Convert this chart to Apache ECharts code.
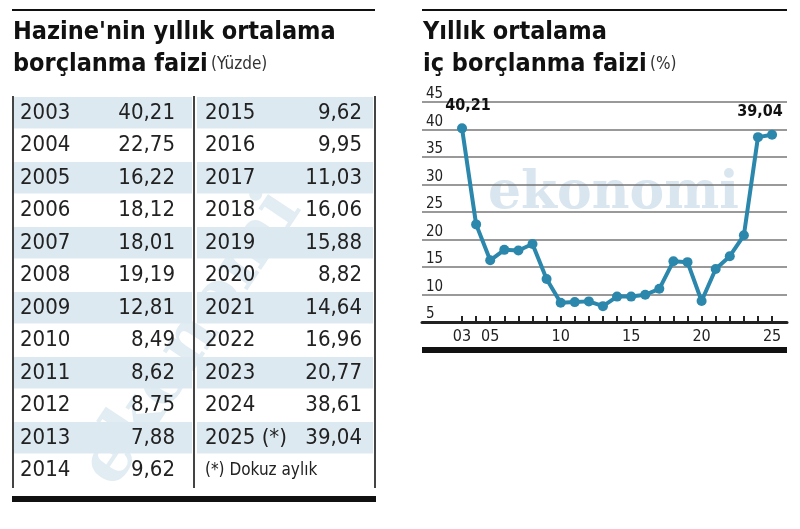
<!DOCTYPE html>
<html>
<head>
<meta charset="utf-8">
<script src="https://cdn.jsdelivr.net/npm/echarts@6/dist/echarts.min.js"></script>
<style>
html, body { margin: 0; padding: 0; background: #fff; }
#main { width: 800px; height: 529px; }
</style>
</head>
<body>
<div id="main"></div>
<script>
var years = [2003, 2004, 2005, 2006, 2007, 2008, 2009, 2010, 2011, 2012, 2013, 2014,
	2015, 2016, 2017, 2018, 2019, 2020, 2021, 2022, 2023, 2024, 2025];
var rates = [40.21, 22.75, 16.22, 18.12, 18.01, 19.19, 12.81, 8.49, 8.62, 8.75, 7.88, 9.62,
	9.62, 9.95, 11.03, 16.06, 15.88, 8.82, 14.64, 16.96, 20.77, 38.61, 39.04];
var xLabelYears = [2003, 2005, 2010, 2015, 2020, 2025];

var FONT = "'Liberation Sans Narrow', 'DejaVu Sans Condensed', 'Roboto', sans-serif";
var BLUE = '#2b87ab';
var SHADE = '#dde9f1';

function fmt(v) { return v.toFixed(2).replace('.', ','); }

// table drawn as graphic elements
var graphics = [];
var rowTop = 97, rowH = 32.5, half = 12;
graphics.push({ type: 'rect', shape: { x: 12, y: 9, width: 363, height: 2 }, style: { fill: '#111' } });
graphics.push({ type: 'rect', shape: { x: 422, y: 9, width: 365, height: 2 }, style: { fill: '#111' } });
graphics.push({ type: 'text', left: 13, top: 20, style: { text: "Hazine'nin yıllık ortalama", font: 'bold 25px ' + FONT, fill: '#111' } });
graphics.push({ type: 'text', left: 13, top: 52, style: { rich: { b: { font: 'bold 25px ' + FONT, fill: '#111' }, s: { font: '17px ' + FONT, fill: '#333' } }, text: '{b|borçlanma faizi} {s|(Yüzde)}' } });
graphics.push({ type: 'text', left: 423, top: 20, style: { text: 'Yıllık ortalama', font: 'bold 25px ' + FONT, fill: '#111' } });
graphics.push({ type: 'text', left: 423, top: 52, style: { rich: { b: { font: 'bold 25px ' + FONT, fill: '#111' }, s: { font: '17px ' + FONT, fill: '#333' } }, text: '{b|iç borçlanma faizi} {s|(%)}' } });

for (var i = 0; i < half; i++) {
	var y = rowTop + i * rowH;
	if (i % 2 === 0) {
		graphics.push({ type: 'rect', shape: { x: 14, y: y, width: 178, height: rowH - 1 }, style: { fill: SHADE } });
		graphics.push({ type: 'rect', shape: { x: 197, y: y, width: 176, height: rowH - 1 }, style: { fill: SHADE } });
	}
	graphics.push({ type: 'text', x: 20, y: y + rowH / 2, style: { text: String(years[i]), font: '22px ' + FONT, fill: '#222', verticalAlign: 'middle' } });
	graphics.push({ type: 'text', x: 175, y: y + rowH / 2, style: { text: fmt(rates[i]), font: '22px ' + FONT, fill: '#222', align: 'right', verticalAlign: 'middle' } });
	var j = i + half;
	if (j < years.length) {
		var yl = String(years[j]) + (j === years.length - 1 ? ' (*)' : '');
		graphics.push({ type: 'text', x: 205, y: y + rowH / 2, style: { text: yl, font: '22px ' + FONT, fill: '#222', verticalAlign: 'middle' } });
		graphics.push({ type: 'text', x: 362, y: y + rowH / 2, style: { text: fmt(rates[j]), font: '22px ' + FONT, fill: '#222', align: 'right', verticalAlign: 'middle' } });
	} else {
		graphics.push({ type: 'text', x: 205, y: y + rowH / 2, style: { text: '(*) Dokuz aylık', font: '17px ' + FONT, fill: '#222', verticalAlign: 'middle' } });
	}
}
graphics.push({ type: 'rect', shape: { x: 12, y: 96, width: 2, height: 392 }, style: { fill: '#444' } });
graphics.push({ type: 'rect', shape: { x: 193, y: 96, width: 2, height: 392 }, style: { fill: '#444' } });
graphics.push({ type: 'rect', shape: { x: 374, y: 96, width: 2, height: 392 }, style: { fill: '#444' } });
graphics.push({ type: 'rect', shape: { x: 12, y: 496, width: 364, height: 6 }, style: { fill: '#111' } });
graphics.push({ type: 'rect', shape: { x: 422, y: 347, width: 365, height: 6 }, style: { fill: '#111' } });
// watermarks
graphics.push({ type: 'text', x: 488, y: 168, z: -1, style: { text: 'ekonomi', font: 'bold 52px "DejaVu Serif", serif', fill: 'rgba(170,200,220,0.45)' } });
graphics.push({ type: 'text', x: 70, y: 460, rotation: Math.PI / 3.2, z: -1, style: { text: 'ekonomi', font: 'bold 70px "DejaVu Serif", serif', fill: 'rgba(170,200,220,0.35)' } });

var chart = echarts.init(document.getElementById('main'));
chart.setOption({
	animation: false,
	graphic: graphics,
	grid: { left: 422, right: 13, top: 102, bottom: 207 },
	xAxis: {
		type: 'value',
		min: 2000.16,
		max: 2026.06,
		splitLine: { show: false },
		axisLine: { lineStyle: { color: '#222', width: 3 } },
		axisTick: { inside: true, length: 6, customValues: years, lineStyle: { color: '#222', width: 2 } },
		axisLabel: {
			customValues: xLabelYears,
			margin: 7,
			fontFamily: FONT,
			fontSize: 16,
			color: '#222',
			formatter: function (v) { return String(v % 100).padStart(2, '0'); }
		}
	},
	yAxis: {
		type: 'value',
		min: 5,
		max: 45,
		interval: 5,
		axisLine: { show: false },
		axisTick: { show: false },
		splitLine: { lineStyle: { color: '#777', width: 1.5 } },
		axisLabel: {
			inside: true,
			verticalAlign: 'bottom',
			margin: 4,
			fontFamily: FONT,
			fontSize: 15,
			color: '#222'
		}
	},
	series: [{
		type: 'line',
		data: years.map(function (y, k) { return [y, rates[k]]; }),
		symbol: 'circle',
		symbolSize: 10,
		lineStyle: { color: BLUE, width: 4 },
		itemStyle: { color: BLUE },
		labelLayout: function (p) {
			return p.dataIndex === years.length - 1 ? { dx: -12 } : { dx: 6 };
		},
		label: {
			show: true,
			fontFamily: FONT,
			fontWeight: 'bold',
			fontSize: 16,
			color: '#111',
			position: 'top',
			distance: 10,
			formatter: function (p) {
				return (p.dataIndex === 0 || p.dataIndex === years.length - 1) ? fmt(p.value[1]) : '';
			}
		}
	}]
});
</script>
</body>
</html>
